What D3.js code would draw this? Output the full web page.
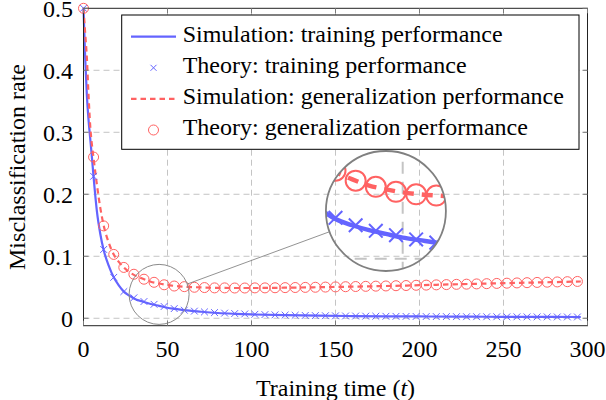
<!DOCTYPE html>
<html><head><meta charset="utf-8">
<script src="https://cdn.jsdelivr.net/npm/d3@7"></script>
<style>body{margin:0;background:#fff}svg{display:block}</style>
</head><body><svg id="c" width="606" height="400"></svg>
<script>
// ---- data ----
const xTicks = [0, 50, 100, 150, 200, 250, 300];
const yTicks = [0, 0.1, 0.2, 0.3, 0.4, 0.5];
const yTickLabels = ["0", "0.1", "0.2", "0.3", "0.4", "0.5"];
const legendLabels = ["Simulation: training performance", "Theory: training performance",
  "Simulation: generalization performance", "Theory: generalization performance"];

// simulation sampling times
const tSim = [0,1,2,3,4,5,6,8,10,12,15,18,21,24,27,30,35,40,45,50,55,60,70,80,90,100,120,140,160,180,200,220,240,260,280,296];
const simTrain = [0.5,0.42,0.36,0.32,0.29,0.26,0.228,0.172,0.136,0.11,0.085,0.066,0.053,0.043,0.037,0.032,0.027,0.023,0.02,0.017,0.015,0.013,0.0105,0.0085,0.0072,0.0062,0.0049,0.0041,0.0036,0.0032,0.0029,0.0026,0.0024,0.0022,0.0021,0.002];
const simGen = [0.5,0.46,0.42,0.36,0.31,0.28,0.258,0.215,0.178,0.15,0.122,0.103,0.091,0.082,0.075,0.07,0.064,0.059,0.056,0.0535,0.052,0.051,0.0497,0.049,0.0488,0.0488,0.0493,0.0501,0.051,0.052,0.0533,0.0547,0.056,0.0572,0.0583,0.0593];

// theory sampling times
const tTheory = [0,6,12,18,24,30,36,42,48,54,60,66,72,78,84,90,96,102,108,114,120,126,132,138,144,150,156,162,168,174,180,186,192,198,204,210,216,222,228,234,240,246,252,258,264,270,276,282,288,294];
const theoryTrain = [0.5,0.229,0.111,0.066,0.043,0.033,0.027,0.0225,0.019,0.0156,0.013,0.0115,0.0102,0.0092,0.0083,0.0076,0.007,0.0064,0.0059,0.0055,0.0051,0.0048,0.0045,0.0043,0.0041,0.0039,0.0037,0.0036,0.0034,0.0033,0.0032,0.0031,0.003,0.0029,0.0028,0.0027,0.0027,0.0026,0.0025,0.0025,0.0024,0.0024,0.0023,0.0023,0.0022,0.0022,0.0022,0.0021,0.0021,0.0021];
const theoryGen = [0.5,0.26,0.149,0.103,0.082,0.071,0.063,0.058,0.054,0.052,0.051,0.05,0.0495,0.049,0.049,0.0488,0.0488,0.049,0.049,0.0492,0.0494,0.0496,0.0498,0.05,0.0503,0.0506,0.0509,0.0512,0.0515,0.0518,0.0521,0.0525,0.0528,0.0532,0.0535,0.0539,0.0543,0.0547,0.055,0.0554,0.0558,0.0562,0.0566,0.057,0.0574,0.0578,0.0582,0.0586,0.059,0.0594];

// magnifier (data coordinates)
const spyOn = {t: 45, v: 0.0385};
const spyAt = {t: 180, v: 0.173};

// ---- layout ----
const FONT = '"Liberation Serif", "Times New Roman", Tinos, serif';
const FS = 24;
const blue = "#6464ff", red = "#ff6262";
const svg = d3.select("#c");
const x = d3.scaleLinear().domain([0, 300]).range([83.5, 587.5]);
const y = d3.scaleLinear().domain([-0.012, 0.5]).range([325.7, 8.3]);
const [X0, X1] = x.range(), [Y0, Y1] = y.range();
function styleText(sel) {
  return sel.attr("font-family", FONT).style("font-family", FONT).attr("font-size", FS).attr("fill", "#000");
}

function drawPlot(g) {
  g.append("g").selectAll("line").data(xTicks.slice(1, -1)).join("line")
    .attr("x1", d => x(d)).attr("x2", d => x(d)).attr("y1", Y0).attr("y2", Y1)
    .attr("stroke", "#c4c4c4").attr("stroke-width", 1).attr("stroke-dasharray", "6,4");
  g.append("g").selectAll("line").data(yTicks.slice(0, -1)).join("line")
    .attr("x1", X0).attr("x2", X1).attr("y1", d => y(d)).attr("y2", d => y(d))
    .attr("stroke", "#c4c4c4").attr("stroke-width", 1).attr("stroke-dasharray", "6,4");
  const line = d3.line().x(d => x(d[0])).y(d => y(d[1])).curve(d3.curveMonotoneX);
  g.append("path").datum(d3.zip(tSim, simTrain)).attr("d", line)
    .attr("fill", "none").attr("stroke", blue).attr("stroke-width", 2.2);
  g.append("path").datum(d3.zip(tSim, simGen)).attr("d", line)
    .attr("fill", "none").attr("stroke", red).attr("stroke-width", 2.2).attr("stroke-dasharray", "5.5,4");
  const cr = 3.4;
  g.append("g").selectAll("path").data(d3.zip(tTheory, theoryTrain)).join("path")
    .attr("d", d => `M${x(d[0]) - cr},${y(d[1]) - cr}L${x(d[0]) + cr},${y(d[1]) + cr}M${x(d[0]) - cr},${y(d[1]) + cr}L${x(d[0]) + cr},${y(d[1]) - cr}`)
    .attr("stroke", blue).attr("stroke-width", 1).attr("fill", "none");
  g.append("g").selectAll("circle").data(d3.zip(tTheory, theoryGen)).join("circle")
    .attr("cx", d => x(d[0])).attr("cy", d => y(d[1])).attr("r", 5)
    .attr("fill", "none").attr("stroke", red).attr("stroke-width", 1);
}

const main = svg.append("g");
drawPlot(main);

// magnifier
const sx = x(spyOn.t), sy = y(spyOn.v), bx = x(spyAt.t), by = y(spyAt.v);
const spyR = 30, zf = 2;
svg.append("defs").append("clipPath").attr("id", "spyclip")
  .append("circle").attr("cx", sx).attr("cy", sy).attr("r", spyR);
svg.append("circle").attr("cx", sx).attr("cy", sy).attr("r", spyR)
  .attr("fill", "none").attr("stroke", "#8a8a8a").attr("stroke-width", 1);
const ang = Math.atan2(by - sy, bx - sx);
svg.append("line")
  .attr("x1", sx + spyR * Math.cos(ang)).attr("y1", sy + spyR * Math.sin(ang))
  .attr("x2", bx - spyR * zf * Math.cos(ang)).attr("y2", by - spyR * zf * Math.sin(ang))
  .attr("stroke", "#777").attr("stroke-width", 0.8);
const mag = svg.append("g").attr("transform", `translate(${bx},${by}) scale(${zf}) translate(${-sx},${-sy})`)
  .append("g").attr("clip-path", "url(#spyclip)");
drawPlot(mag);
svg.append("circle").attr("cx", bx).attr("cy", by).attr("r", spyR * zf)
  .attr("fill", "none").attr("stroke", "#808080").attr("stroke-width", 1.8);

// frame & ticks
svg.append("rect").attr("x", X0).attr("y", Y1).attr("width", X1 - X0).attr("height", Y0 - Y1)
  .attr("fill", "none").attr("stroke", "#222").attr("stroke-width", 1);
const tk = 5;
const tg = svg.append("g").attr("stroke", "#7a7a7a").attr("stroke-width", 1);
xTicks.forEach(d => {
  tg.append("line").attr("x1", x(d)).attr("x2", x(d)).attr("y1", Y0).attr("y2", Y0 - tk);
  tg.append("line").attr("x1", x(d)).attr("x2", x(d)).attr("y1", Y1).attr("y2", Y1 + tk);
});
yTicks.forEach(d => {
  tg.append("line").attr("y1", y(d)).attr("y2", y(d)).attr("x1", X0).attr("x2", X0 + tk);
  tg.append("line").attr("y1", y(d)).attr("y2", y(d)).attr("x1", X1).attr("x2", X1 - tk);
});
styleText(svg.append("g").selectAll("text").data(xTicks).join("text"))
  .attr("x", d => x(d)).attr("y", 356.7).attr("text-anchor", "middle").text(d => d);
styleText(svg.append("g").selectAll("text").data(yTicks).join("text"))
  .attr("x", 73).attr("y", d => y(d) + 8.5).attr("text-anchor", "end").text((d, i) => yTickLabels[i]);

// axis labels
const xl = styleText(svg.append("text")).attr("x", (X0 + X1) / 2).attr("y", 396).attr("text-anchor", "middle");
xl.append("tspan").text("Training time (");
xl.append("tspan").attr("font-style", "italic").text("t");
xl.append("tspan").text(")");
styleText(svg.append("text")).attr("transform", `translate(25,${(Y0 + Y1) / 2}) rotate(-90)`)
  .attr("text-anchor", "middle").text("Misclassification rate");

// legend
const lg = svg.append("g");
lg.append("rect").attr("x", 121.7).attr("y", 15).attr("width", 579 - 121.7).attr("height", 149.3 - 15)
  .attr("fill", "#fff").attr("stroke", "#000").attr("stroke-width", 1);
const rowY = i => 36.7 + i * 31.1;
const lx0 = 131, lx1 = 176, lxc = (lx0 + lx1) / 2;
lg.append("line").attr("x1", lx0).attr("x2", lx1).attr("y1", rowY(0)).attr("y2", rowY(0))
  .attr("stroke", blue).attr("stroke-width", 2.2);
lg.append("path").attr("d", `M${lxc - 3},${rowY(1) - 3}L${lxc + 3},${rowY(1) + 3}M${lxc - 3},${rowY(1) + 3}L${lxc + 3},${rowY(1) - 3}`)
  .attr("stroke", blue).attr("stroke-width", 1);
lg.append("line").attr("x1", lx0).attr("x2", lx1).attr("y1", rowY(2)).attr("y2", rowY(2))
  .attr("stroke", red).attr("stroke-width", 2.2).attr("stroke-dasharray", "5.5,4");
lg.append("circle").attr("cx", lxc).attr("cy", rowY(3)).attr("r", 5)
  .attr("fill", "none").attr("stroke", red).attr("stroke-width", 1);
styleText(lg.selectAll("text").data(legendLabels).join("text"))
  .attr("x", 182.7).attr("y", (d, i) => rowY(i) + 5).text(d => d);
</script></body></html>
